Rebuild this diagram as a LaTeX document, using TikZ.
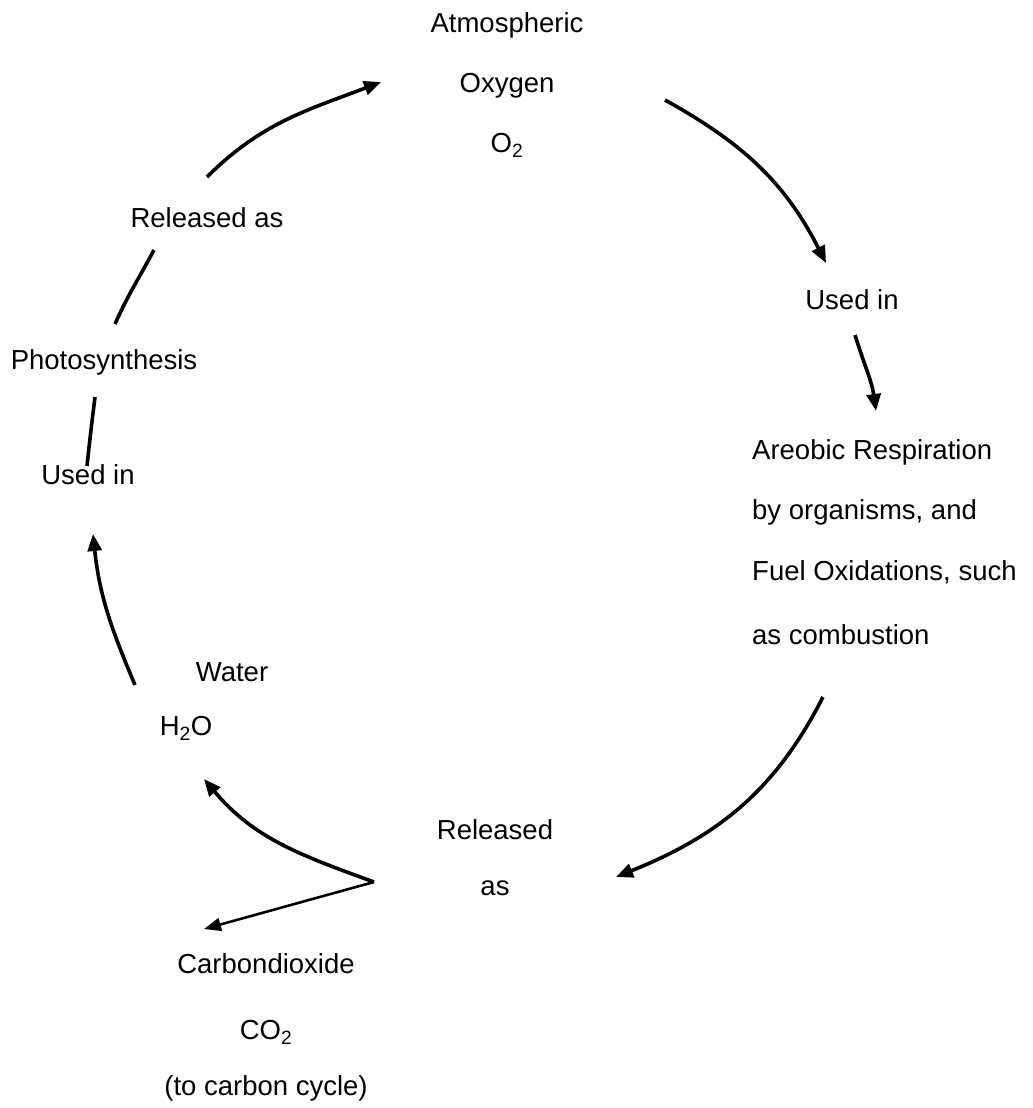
\documentclass[tikz,border=0pt]{standalone}
\usepackage{fontspec}
\setmainfont{Liberation Sans}
\usetikzlibrary{arrows.meta}
\begin{document}
\begin{tikzpicture}[x=1pt,y=-1pt,
  lbl/.style={font=\fontsize{27.5}{33}\selectfont, inner sep=0pt, anchor=center},
  lbll/.style={lbl, anchor=west},
  flow/.style={line width=3.6pt, -{Triangle[length=17pt,width=14pt]}},
  plain/.style={line width=3.6pt},
  thin/.style={line width=2.6pt, -{Triangle[length=17pt,width=13pt]}}]
\useasboundingbox (0,0) rectangle (1033,1108);
% texts
\node[lbl] (atm) at (507,25) {Atmospheric};
\node[lbl] (oxy) at (507,86) {Oxygen};
\node[lbl] (o2) at (507,145) {O\textsubscript{2}};
\node[lbl] (rel1) at (207,218) {Released as};
\node[lbl] (used1) at (852,300) {Used in};
\node[lbl] (photo) at (104,362) {Photosynthesis};
\node[lbl] (used2) at (88,475) {Used in};
\node[lbll] (aer1) at (752,452) {Areobic Respiration};
\node[lbll] (aer2) at (752,512) {by organisms, and};
\node[lbll] (aer3) at (752,572) {Fuel Oxidations, such};
\node[lbll] (aer4) at (752,635) {as combustion};
\node[lbl] (water) at (232,672) {Water};
\node[lbl] (h2o) at (186,728) {H\textsubscript{2}O};
\node[lbl] (rel2) at (495,830) {Released};
\node[lbl] (rel2b) at (495,888) {as};
\node[lbl] (co2a) at (266,964) {Carbondioxide};
\node[lbl] (co2b) at (266,1032) {CO\textsubscript{2}};
\node[lbl] (co2c) at (266,1088) {(to carbon cycle)};
% connector ends
\coordinate (a1s) at (207,177); \coordinate (a1e) at (381,82);
\coordinate (a2s) at (665,100); \coordinate (a2e) at (826,263);
\coordinate (a3s) at (855,335); \coordinate (a3e) at (876,411);
\coordinate (a4s) at (823,697); \coordinate (a4e) at (616,877);
\coordinate (a5s) at (374,882); \coordinate (a5e) at (204,779);
\coordinate (a6e) at (204,929);
\coordinate (a7s) at (135,685); \coordinate (a7e) at (93,534);
\coordinate (a8s) at (87,466); \coordinate (a8e) at (95,397);
\coordinate (a9s) at (115,324); \coordinate (a9e) at (154,250);
% connectors
\draw[flow] (a1s) to[out=45,in=201] (a1e);
\draw[flow] (a2s) to[out=-29,in=117] (a2e);
\draw[flow] (a3s) to[out=-73,in=98] (a3e);
\draw[flow] (a4s) to[out=-117,in=22] (a4e);
\draw[flow] (a5s) to[out=160,in=-50] (a5e);
\draw[thin] (a5s) -- (a6e);
\draw[flow] (a7s) to[out=113,in=-84] (a7e);
\draw[plain] (a8s) to[out=84,in=-97] (a8e);
\draw[plain] (a9s) to[out=66,in=-118] (a9e);
\end{tikzpicture}
\end{document}
